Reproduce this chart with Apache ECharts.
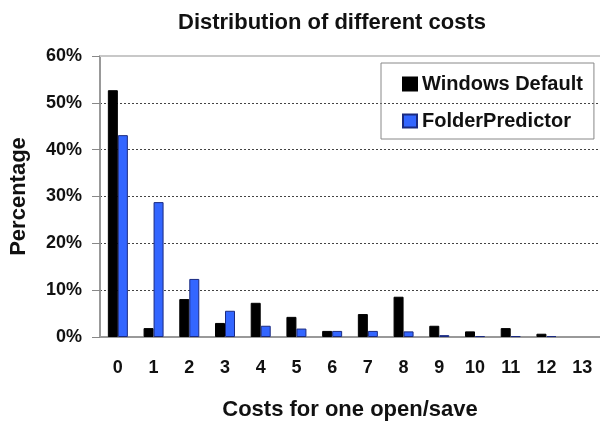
<!DOCTYPE html>
<html>
<head>
    <meta charset="utf-8">
    <title>Distribution of different costs</title>
    <script src="https://cdn.jsdelivr.net/npm/echarts@6/dist/echarts.min.js"></script>
    <style>
        body { margin: 0; background: #fff; }
        #main { width: 600px; height: 421px; }
    </style>
</head>
<body>
<div id="main"></div>
<script type="text/javascript">
    // data (percent); nothing drawn at cost 13
    var costs = ['0', '1', '2', '3', '4', '5', '6', '7', '8', '9', '10', '11', '12', '13'];
    var windowsDefault = [52.7, 1.9, 8.1, 3.0, 7.3, 4.3, 1.3, 4.9, 8.6, 2.4, 1.2, 1.9, 0.7, null];
    var folderPredictor = [43.1, 28.8, 12.4, 5.6, 2.4, 1.8, 1.3, 1.3, 1.2, 0.4, 0.2, 0.2, 0.2, null];
    var yTicks = [0, 10, 20, 30, 40, 50, 60];

    var font = "'Liberation Sans', Arial, sans-serif";
    var myChart = echarts.init(document.getElementById('main'));

    var option = {
        animation: false,
        backgroundColor: '#fff',
        title: {
            text: 'Distribution of different costs',
            left: 327,
            top: 7,
            textAlign: 'center',
            textStyle: { fontFamily: font, fontSize: 22, fontWeight: 'bold', color: '#111' }
        },
        legend: {
            orient: 'vertical',
            left: 381,
            top: 63,
            icon: 'rect',
            data: ['Windows Default', 'FolderPredictor'],
            itemWidth: 14,
            itemHeight: 13,
            itemGap: 17,
            padding: [11, 11, 8, 21],
            borderColor: '#888',
            borderWidth: 1,
            textStyle: { fontFamily: font, fontSize: 20, fontWeight: 'bold', color: '#111', lineHeight: 20 }
        },
        grid: { left: 100, right: 0, top: 56, bottom: 84, outerBoundsMode: 'none' },
        xAxis: {
            type: 'category',
            data: costs,
            name: 'Costs for one open/save',
            nameLocation: 'middle',
            nameGap: 62,
            nameTextStyle: { fontFamily: font, fontSize: 22, fontWeight: 'bold', color: '#111' },
            axisLine: { lineStyle: { color: '#999', width: 2 } },
            axisTick: { length: 6, lineStyle: { color: '#888' } },
            axisLabel: { margin: 22, fontFamily: font, fontSize: 18, fontWeight: 'bold', color: '#111' }
        },
        yAxis: {
            type: 'value',
            min: yTicks[0],
            max: yTicks[yTicks.length - 1],
            interval: 10,
            name: 'Percentage',
            nameLocation: 'middle',
            nameGap: 70,
            nameTextStyle: { fontFamily: font, fontSize: 22, fontWeight: 'bold', color: '#111' },
            axisLine: { show: true, lineStyle: { color: '#999', width: 2 } },
            axisTick: { show: true, length: 8, lineStyle: { color: '#888' } },
            axisLabel: { margin: 18, formatter: '{value}%', fontFamily: font, fontSize: 18, fontWeight: 'bold', color: '#111' },
            splitLine: { lineStyle: { color: '#444', type: [2, 2], width: 1 } }
        },
        series: [{
            name: 'Windows Default',
            type: 'bar',
            data: windowsDefault,
            barWidth: 10,
            barGap: 0,
            itemStyle: { color: '#000', borderColor: '#000', borderWidth: 1 },
            markLine: {
                silent: true,
                symbol: 'none',
                label: { show: false },
                lineStyle: { color: '#c8c8c8', type: 'solid', width: 2 },
                data: [{ yAxis: yTicks[yTicks.length - 1] }]
            }
        }, {
            name: 'FolderPredictor',
            type: 'bar',
            data: folderPredictor,
            barWidth: 10,
            itemStyle: { color: '#3366ff', borderColor: '#1a2a80', borderWidth: 1 }
        }]
    };
    myChart.setOption(option);
</script>
</body>
</html>
